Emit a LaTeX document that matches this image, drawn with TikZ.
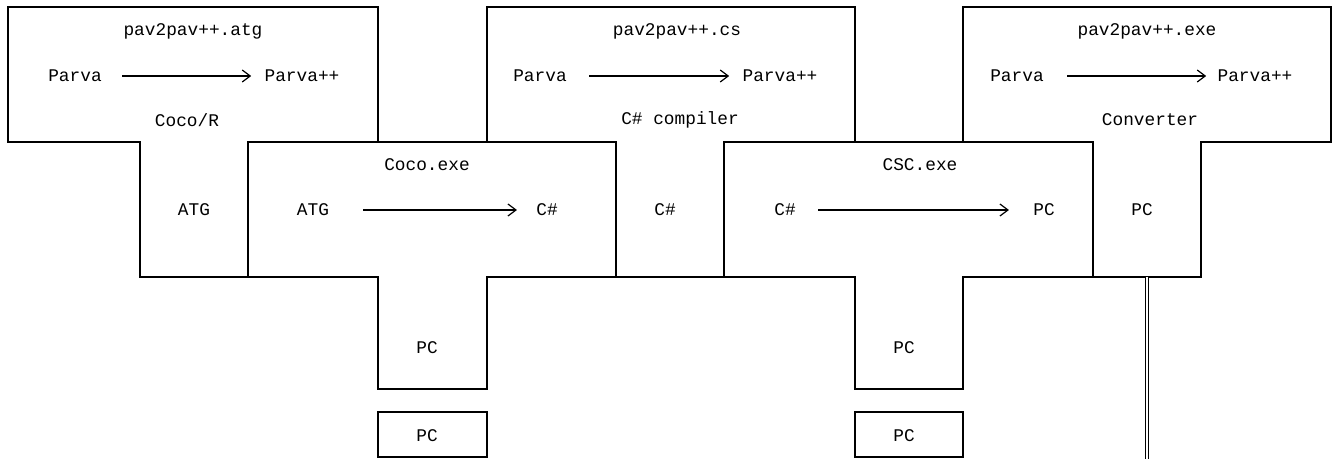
\documentclass[tikz,border=0pt]{standalone}
\usepackage{fontspec}
\setmonofont{Liberation Mono}
\usetikzlibrary{arrows.meta}

\begin{document}
\begin{tikzpicture}[x=0.5pt, y=-0.5pt, font=\ttfamily\fontsize{8.9}{10}\selectfont,
  lbl/.style={inner sep=0pt},
  tline/.style={line width=0.6pt},
  arr/.style={-{Straight Barb[length=4pt,width=6pt]}, line width=0.6pt}]
\useasboundingbox (0,0) rectangle (1340,459);

% T-shapes
\draw[tline] (8,7) -- (378,7) -- (378,142) -- (248,142) -- (248,277) -- (140,277) -- (140,142) -- (8,142) -- cycle;
\draw[tline] (248,142) -- (616,142) -- (616,277) -- (487,277) -- (487,389) -- (378,389) -- (378,277) -- (248,277) -- cycle;
\draw[tline] (487,7) -- (855,7) -- (855,142) -- (724,142) -- (724,277) -- (616,277) -- (616,142) -- (487,142) -- cycle;
\draw[tline] (724,142) -- (1093,142) -- (1093,277) -- (963,277) -- (963,389) -- (855,389) -- (855,277) -- (724,277) -- cycle;
\draw[tline] (963,7) -- (1331,7) -- (1331,142) -- (1201,142) -- (1201,277) -- (1093,277) -- (1093,142) -- (963,142) -- cycle;
\draw[tline] (378,412) rectangle (487,457);
\draw[tline] (855,412) rectangle (963,457);

% pav2pav++.atg
\node[lbl] (atgname) at (193,31) {pav2pav++.atg};
\node[lbl] (atgsrc) at (75,76) {Parva};
\node[lbl] (atgdst) at (302,76) {Parva++};
\node[lbl] (atglang) at (187,120) {Coco/R};
\draw[arr, shorten <=10pt, shorten >=6.5pt] (atgsrc) -- (atgdst);
\node[lbl] (atgstem) at (194,210) {ATG};

% Coco.exe
\node[lbl] (coconame) at (427,165) {Coco.exe};
\node[lbl] (cocosrc) at (313,210) {ATG};
\node[lbl] (cocodst) at (547,210) {C\#};
\draw[arr, shorten <=17pt, shorten >=9.5pt] (cocosrc) -- (cocodst);
\node[lbl] (cocostem) at (427,348) {PC};
\node[lbl] (cocobox) at (427,436) {PC};

% pav2pav++.cs
\node[lbl] (csname) at (677,31) {pav2pav++.cs};
\node[lbl] (cssrc) at (540,76) {Parva};
\node[lbl] (csdst) at (780,76) {Parva++};
\node[lbl] (cslang) at (680,120) {C\# compiler};
\draw[arr, shorten <=11pt, shorten >=6.5pt] (cssrc) -- (csdst);
\node[lbl] (csstem) at (665,210) {C\#};

% CSC.exe
\node[lbl] (cscname) at (920,165) {CSC.exe};
\node[lbl] (cscsrc) at (785,210) {C\#};
\node[lbl] (cscdst) at (1044,210) {PC};
\draw[arr, shorten <=11pt, shorten >=12pt] (cscsrc) -- (cscdst);
\node[lbl] (cscstem) at (904,348) {PC};
\node[lbl] (cscbox) at (904,436) {PC};

% pav2pav++.exe
\node[lbl] (exename) at (1147,31) {pav2pav++.exe};
\node[lbl] (exesrc) at (1017,76) {Parva};
\node[lbl] (exedst) at (1255,76) {Parva++};
\node[lbl] (exelang) at (1150,120) {Converter};
\draw[arr, shorten <=11.5pt, shorten >=5.5pt] (exesrc) -- (exedst);
\node[lbl] (exestem) at (1142,210) {PC};

\coordinate (exefoot) at (1147,277);
\coordinate (exeend) at (1147,459);
\draw[line width=0.4pt, double, double distance=1pt] (exefoot) -- (exeend);
\end{tikzpicture}
\end{document}
